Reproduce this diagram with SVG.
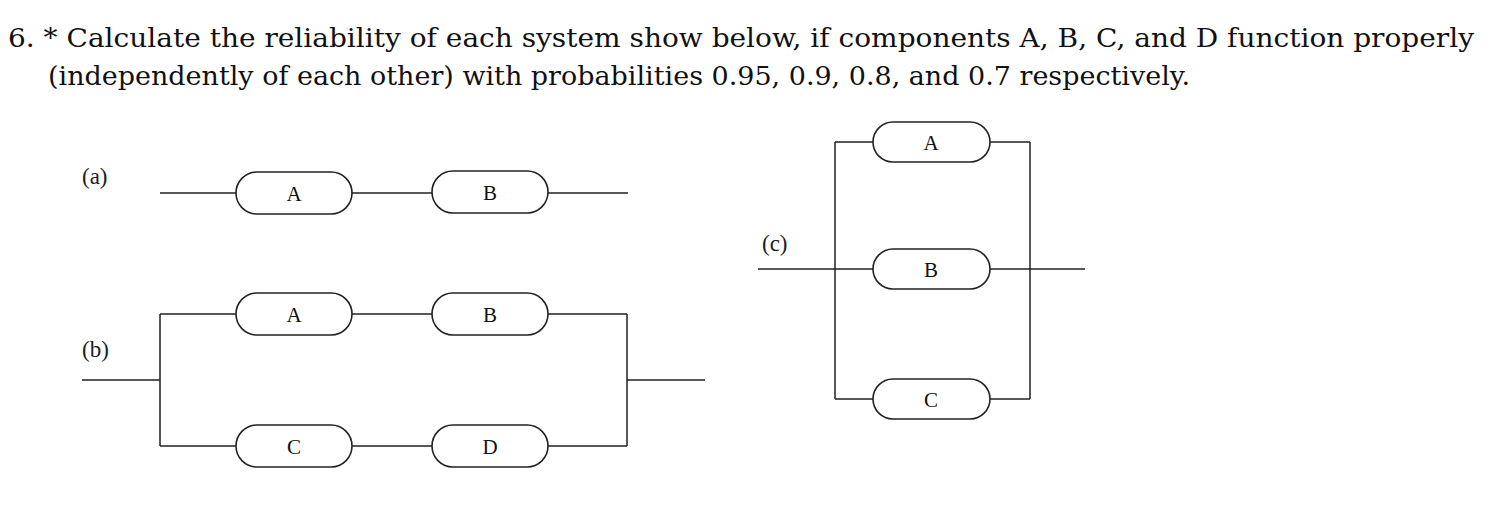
<svg xmlns="http://www.w3.org/2000/svg" width="1498" height="516" viewBox="0 0 1498 516">
<style>
.t{font-family:"DejaVu Serif",serif;font-size:26px;fill:#111}
.l{font-family:"Liberation Serif",serif;font-size:23px;fill:#222}
.n rect{fill:#fff;stroke:#222;stroke-width:1.6}
.n text{font-family:"Liberation Serif",serif;font-size:21px;fill:#111;text-anchor:middle}
#connectors path{fill:none;stroke:#222;stroke-width:1.5}
</style>
<rect width="1498" height="516" fill="#fff"/>
<text class="t" x="8" y="47" textLength="1466" lengthAdjust="spacingAndGlyphs">6. * Calculate the reliability of each system show below, if components A, B, C, and D function properly</text>
<text class="t" x="48" y="85" textLength="1142" lengthAdjust="spacingAndGlyphs">(independently of each other) with probabilities 0.95, 0.9, 0.8, and 0.7 respectively.</text>
<text class="l" x="82" y="184">(a)</text>
<text class="l" x="82" y="357">(b)</text>
<text class="l" x="762" y="251">(c)</text>
<g id="connectors">
<path d="M160 193H236M352 193H432M548 193H628"/>
<path d="M82 380H160M160 314V446M160 314H236M352 314H432M548 314H627M160 446H236M352 446H432M548 446H627M627 314V446M627 380H705"/>
<path d="M758 269H873M835 142V399M835 142H873M835 399H873M990 142H1030M990 269H1085M990 399H1030M1030 142V399"/>
</g>
<g id="a-A" class="n"><rect x="236" y="172" width="116" height="42" rx="21"/><text x="294" y="201">A</text></g>
<g id="a-B" class="n"><rect x="432" y="171" width="116" height="42" rx="21"/><text x="490" y="200">B</text></g>
<g id="b-A" class="n"><rect x="236" y="293" width="116" height="42" rx="21"/><text x="294" y="322">A</text></g>
<g id="b-B" class="n"><rect x="432" y="293" width="116" height="42" rx="21"/><text x="490" y="322">B</text></g>
<g id="b-C" class="n"><rect x="236" y="425" width="116" height="42" rx="21"/><text x="294" y="454">C</text></g>
<g id="b-D" class="n"><rect x="432" y="425" width="116" height="42" rx="21"/><text x="490" y="454">D</text></g>
<g id="c-A" class="n"><rect x="873" y="122" width="117" height="40" rx="20"/><text x="931" y="150">A</text></g>
<g id="c-B" class="n"><rect x="873" y="249" width="117" height="40" rx="20"/><text x="931" y="277">B</text></g>
<g id="c-C" class="n"><rect x="873" y="379" width="117" height="40" rx="20"/><text x="931" y="407">C</text></g>
</svg>
